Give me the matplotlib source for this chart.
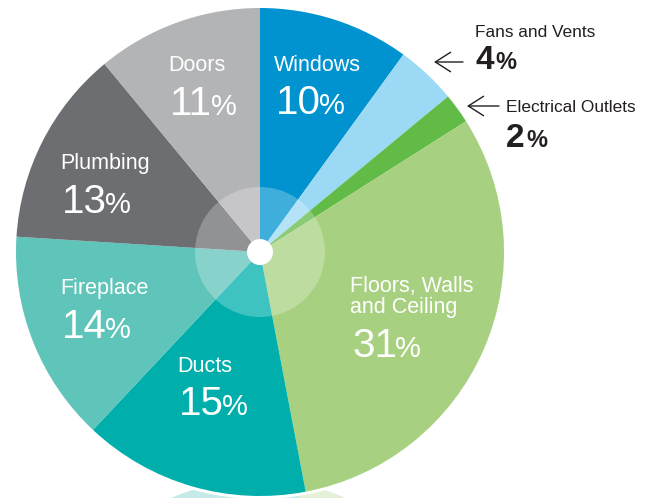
import numpy as np
import matplotlib
matplotlib.use('Agg')
import matplotlib.pyplot as plt
from matplotlib.patches import Circle, Rectangle

# DADOS
categorias = ['Windows', 'Fans and Vents', 'Electrical Outlets', 'Floors, Walls\nand Ceiling',
              'Ducts', 'Fireplace', 'Plumbing', 'Doors']
percentuais = [10, 4, 2, 31, 15, 14, 13, 11]
cores = ['#0093d0', '#9bd9f5', '#63bb47', '#a7d180',
         '#00afab', '#5fc4ba', '#6d6e71', '#b3b4b6']

# posicao dos rotulos (esquerda, linha de base do nome, linha de base do numero)
pos_rotulos = {
    'Windows': (274, 71, 114),
    'Doors': (168, 71, 115),
    'Plumbing': (60, 169, 213),
    'Fireplace': (60, 294, 338),
    'Ducts': (177, 372, 415),
    'Floors, Walls\nand Ceiling': (350, 292, 357),
}
pos_externos = {
    'Fans and Vents': (475, 37, 69),
    'Electrical Outlets': (506, 112, 147),
}
setas = {
    'Fans and Vents': ((463, 62), (434, 62)),
    'Electrical Outlets': ((499, 106), (467, 106)),
}

CENTRO = (260, 252)
RAIO = 244
FONTE = 'Liberation Sans'
TEXTO_ESCURO = '#231f20'

fig = plt.figure(figsize=(6.52, 4.98), dpi=100)
ax = fig.add_axes([0, 0, 1, 1])

# sombra clara abaixo do grafico
sombra = Circle((258, 700), 220, facecolor='#c6eae7', edgecolor='none', zorder=0)
ax.add_patch(sombra)
verde = Rectangle((300, 470), 200, 40, facecolor='#e4f0d8', edgecolor='none', zorder=0)
verde.set_clip_path(sombra)
ax.add_patch(verde)
ax.add_patch(Circle(CENTRO, RAIO + 3, facecolor='white', edgecolor='none', zorder=0.5))

ax.pie(percentuais, colors=cores, startangle=-90, counterclock=True,
       center=CENTRO, radius=RAIO, wedgeprops=dict(linewidth=0, zorder=1))

ax.add_patch(Circle(CENTRO, 65, facecolor='white', alpha=0.25, edgecolor='none', zorder=2))
ax.add_patch(Circle(CENTRO, 13, facecolor='white', edgecolor='none', zorder=3))

ax.set_xlim(0, 652)
ax.set_ylim(498, 0)
ax.set_aspect('equal')
ax.axis('off')

renderer = fig.canvas.get_renderer()


def numero_pct(x, y, valor, cor, tam, tam_pct, peso, folga):
    t = ax.text(x, y, str(valor), color=cor, fontsize=tam, family=FONTE,
                fontweight=peso, va='baseline', ha='left', zorder=5)
    bb = t.get_window_extent(renderer=renderer)
    x_fim = ax.transData.inverted().transform((bb.x1, bb.y0))[0]
    ax.text(x_fim + folga, y, '%', color=cor, fontsize=tam_pct, family=FONTE,
            fontweight=peso, va='baseline', ha='left', zorder=5)


for nome, valor in zip(categorias, percentuais):
    if nome in pos_rotulos:
        x, yb, yn = pos_rotulos[nome]
        for i, linha in enumerate(nome.split('\n')):
            ax.text(x, yb + 21 * i, linha, color='white', fontsize=15.5, family=FONTE,
                    va='baseline', ha='left', zorder=5)
        numero_pct(x + 2, yn, valor, 'white', 29, 21, 'normal', -1.5)
    else:
        x, yb, yn = pos_externos[nome]
        ax.text(x, yb, nome, color=TEXTO_ESCURO, fontsize=12.4, family=FONTE,
                va='baseline', ha='left', zorder=5)
        numero_pct(x, yn, valor, TEXTO_ESCURO, 24, 17, 'bold', 2)
        inicio, fim = setas[nome]
        ax.annotate('', xy=fim, xytext=inicio,
                    arrowprops=dict(arrowstyle='->, head_length=0.55, head_width=0.35',
                                    color=TEXTO_ESCURO, lw=1.0, mutation_scale=20,
                                    shrinkA=0, shrinkB=0))

plt.savefig('out.png', dpi=100)
